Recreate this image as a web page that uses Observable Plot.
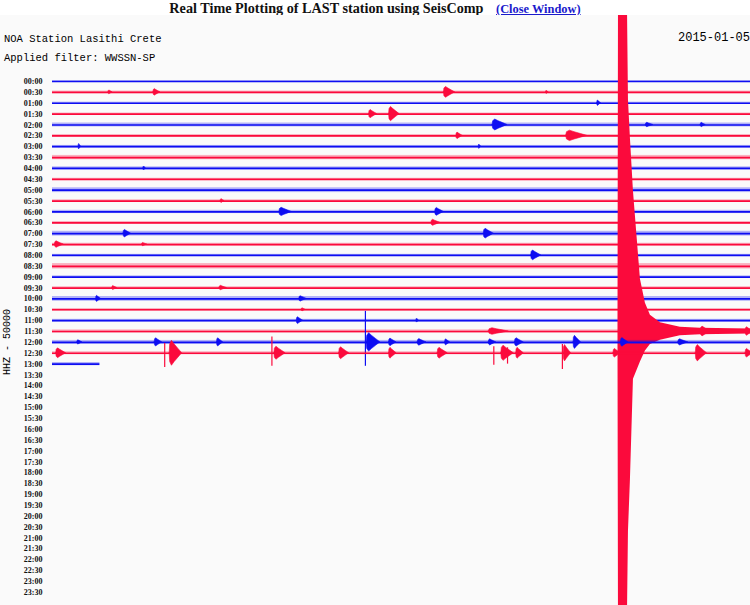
<!DOCTYPE html>
<html><head><meta charset="utf-8">
<script src="https://cdn.jsdelivr.net/npm/d3@7"></script>
<script src="https://cdn.jsdelivr.net/npm/@observablehq/plot@0.6"></script>
<style>
body{margin:0;background:#fff;width:750px;height:605px;overflow:hidden}
#title{height:15px;line-height:14px;text-align:center;font:bold 14.2px "Liberation Serif",serif;color:#111;white-space:nowrap}
#title a{font-size:12.4px;color:#1a1acc;text-decoration:underline;margin-left:9px}
#wrap{position:relative;width:750px;height:590px}
#wrap svg{overflow:hidden;display:block;background:#fafafa}
.hdr{position:absolute;font-family:"Liberation Mono",monospace;font-size:10.5px;line-height:12px;color:#000;white-space:nowrap}
</style></head><body>
<div id="title">Real Time Plotting of LAST station using SeisComp <a>(Close Window)</a></div>
<div id="wrap">
<div id="chart"></div>
<div class="hdr" style="left:4px;top:18px">NOA Station Lasithi Crete</div>
<div class="hdr" style="left:4px;top:37px">Applied filter: WWSSN-SP</div>
<div class="hdr" style="left:678px;top:17px;font-size:12px">2015-01-05</div>
<div class="hdr" style="left:8px;top:327px;transform:translate(-50%,-50%) rotate(-90deg);font-size:10px">HHZ - 50000</div>
</div>
<script>
// Row (30-minute line) tick labels
const rowLabels = ["00:00","00:30","01:00","01:30","02:00","02:30","03:00","03:30","04:00","04:30","05:00","05:30","06:00","06:30","07:00","07:30","08:00","08:30","09:00","09:30","10:00","10:30","11:00","11:30","12:00","12:30","13:00","13:30","14:00","14:30","15:00","15:30","16:00","16:30","17:00","17:30","18:00","18:30","19:00","19:30","20:00","20:30","21:00","21:30","22:00","22:30","23:00","23:30"];
// Minutes of data recorded in each row (rows 0..26)
const traceEnd = [30,30,30,30,30,30,30,30,30,30,30,30,30,30,30,30,30,30,30,30,30,30,30,30,30,30,1.9];
// Background noise level per row (in row-spacing units)
const traceNoise = [0.08,0.12,0.1,0.1,0.18,0.12,0.12,0.2,0.15,0.1,0.22,0.12,0.15,0.12,0.22,0.12,0.1,0.25,0.12,0.12,0.22,0.12,0.12,0.15,0.18,0.14,0.15];
// Local events: [row, minute, amplitude (row units), duration (min)]
const events = [
  [1,2.25,0.18,0.16],[1,4.05,0.3,0.28],[1,15.7,0.5,0.45],[1,19.8,0.15,0.1],
  [2,21.85,0.25,0.15],
  [3,12.7,0.38,0.32],[3,13.5,0.66,0.42],
  [4,17.65,0.5,0.6],[4,23.8,0.2,0.3],[4,26.0,0.2,0.2],
  [5,16.2,0.3,0.25],[5,20.6,0.48,0.85],
  [6,1.05,0.25,0.1],[6,17.1,0.2,0.1],
  [8,3.65,0.18,0.1],
  [11,6.75,0.18,0.15],
  [12,9.1,0.38,0.5],[12,15.35,0.36,0.35],
  [13,15.2,0.28,0.35],
  [14,2.85,0.35,0.3],[14,17.3,0.45,0.4],
  [15,0.1,0.3,0.35],[15,3.6,0.15,0.2],
  [16,19.2,0.45,0.4],
  [19,2.4,0.18,0.2],[19,6.7,0.2,0.3],
  [20,1.75,0.28,0.2],[20,9.9,0.25,0.3],
  [21,10.0,0.15,0.15],
  [22,9.8,0.32,0.25],[22,14.6,0.18,0.1],
  [23,17.5,0.3,0.8],[23,26.0,0.45,0.4],[23,27.8,0.4,0.3],
  [24,1.0,0.2,0.2],[24,4.1,0.38,0.3],[24,6.6,0.38,0.25],[24,12.6,0.85,0.55],[24,13.5,0.35,0.3],[24,14.65,0.3,0.35],[24,15.75,0.28,0.2],[24,17.5,0.28,0.3],[24,18.55,0.38,0.35],[24,20.9,0.6,0.3],[24,22.8,0.4,0.3],[24,25.1,0.28,0.4],
  [25,0.15,0.45,0.4],[25,4.7,1.15,0.5],[25,8.9,0.6,0.45],[25,11.5,0.55,0.4],[25,13.5,0.5,0.3],[25,15.45,0.5,0.4],[25,18.0,0.7,0.5],[25,18.6,0.5,0.3],[25,20.5,0.75,0.3],[25,22.5,0.4,0.3],[25,25.8,0.75,0.45],[25,27.8,0.4,0.3]
];
// Sharp spikes: [row, minute, up, down] (row units)
const spikes = [[24,12.55,2.85,2.2],[25,8.8,1.5,1.2],[25,20.45,0.8,1.5],[25,17.7,0.6,1.1],[25,18.25,0.5,1.0],[25,4.5,0.9,1.3]];
// Large teleseism in the 11:30 row: envelope
const quakeRow = 23;
const quakeMin  = [22.68,22.7,23.06,23.1,23.18,23.3,23.58,23.78,23.98,24.38,25.18,25.99,27.99,30];
const quakeUp   = [0,30,30,21.3,17.7,12.9,4.8,2.6,1.5,0.8,0.4,0.3,0.22,0.2];
const quakeDown = [0,27,26,18.4,13.6,4.4,2.8,1.8,1.2,0.8,0.4,0.3,0.22,0.2];

const blue = "#0d0df2", red = "#fb0a3c";
// burst outline template: [fraction of duration, fraction of amplitude]
const spindle = [[0,0],[0.04,0.7],[0.18,1],[0.4,0.7],[0.7,0.35],[1,0]];

const marks = [];
for (let r = 0; r < traceEnd.length; r++) {
  const c = r % 2 ? red : blue;
  marks.push(Plot.rect([r], {x1: () => 0, x2: () => traceEnd[r], y1: d => d - traceNoise[r], y2: d => d + traceNoise[r], fill: c, fillOpacity: 0.3}));
  marks.push(Plot.ruleY([r], {x1: () => 0, x2: () => traceEnd[r], stroke: c, strokeWidth: 1.7}));
  const ev = events.map((e, i) => ({e, i})).filter(o => o.e[0] === r);
  const pts = ev.flatMap(({e, i}) => spindle.map(([f, a]) => ({id: i, x: e[1] + f * e[3], lo: r - a * e[2], hi: r + a * e[2]})));
  if (pts.length) marks.push(Plot.areaY(pts, {x: "x", y1: "lo", y2: "hi", z: "id", fill: c, stroke: c, strokeWidth: 0.6, curve: "linear"}));
  const sp = spikes.filter(s => s[0] === r);
  if (sp.length) marks.push(Plot.ruleX(sp, {x: d => d[1], y1: d => r - d[2], y2: d => r + d[3], stroke: c, strokeWidth: 1.2}));
  if (r === quakeRow) {
    const q = quakeMin.map((m, i) => ({x: m, lo: r - quakeUp[i], hi: r + quakeDown[i]}));
    marks.push(Plot.areaY(q, {x: "x", y1: "lo", y2: "hi", fill: red, clip: true}));
  }
}
marks.push(Plot.axisY(d3.range(rowLabels.length), {anchor: "left", tickSize: 0, tickPadding: 4, tickFormat: i => rowLabels[i], fontFamily: "Liberation Serif", fontSize: 8, fontWeight: "bold"}));

const chart = Plot.plot({
  width: 750, height: 590,
  marginLeft: 46, marginRight: 0, marginTop: 0, marginBottom: 0,
  style: {background: "#fafafa", color: "#111", overflow: "hidden"},
  x: {domain: [0, 30], range: [52, 800], axis: null},
  y: {domain: [-6.072, 48.206], range: [0, 590], axis: null},
  marks
});
document.getElementById("chart").appendChild(chart);
</script>
</body></html>
